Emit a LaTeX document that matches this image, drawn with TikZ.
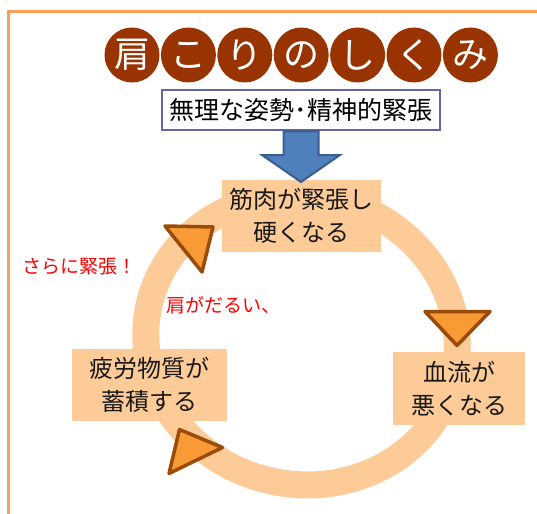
\documentclass[tikz,border=0pt]{standalone}
\usepackage{fontspec}
\setmainfont{Noto Sans CJK JP}
\usetikzlibrary{calc}
\definecolor{frameorange}{HTML}{F8A05A}
\definecolor{peach}{HTML}{FDCB98}
\definecolor{tribrown}{HTML}{9A4B0A}
\definecolor{triorange}{HTML}{F89A35}
\definecolor{titlered}{HTML}{993300}
\definecolor{slate}{HTML}{6464A0}
\definecolor{arrowblue}{HTML}{4F7FBD}
\definecolor{arrowedge}{HTML}{3A5E8C}
\tikzset{
  frameline/.style={draw=frameorange,line width=3pt},
  ringband/.style={draw=peach,line width=27pt},
  tri/.style={draw=tribrown,fill=triorange,line width=3.5pt,line join=round},
  stepbox/.style={rectangle,fill=peach,inner sep=0pt,outer sep=0pt,align=center,
    font=\fontsize{24}{33}\selectfont,text=black!90},
  titlecirc/.style={circle,fill=titlered,minimum size=55pt,inner sep=0pt,
    text=white,font=\fontsize{36}{36}\selectfont},
  subbox/.style={rectangle,draw=slate,line width=2pt,fill=white,minimum width=278pt,
    minimum height=40pt,inner sep=0pt,outer sep=0pt,font=\fontsize{25}{25}\selectfont},
  bluearrow/.style={fill=arrowblue,draw=arrowedge,line width=2pt,line join=miter},
  redtext/.style={text=red,inner sep=0pt,anchor=west,font=\fontsize{19}{19}\selectfont}
}
\begin{document}
\begin{tikzpicture}[x=1pt,y=-1pt]
\useasboundingbox (0,0) rectangle (537,513);
\clip (0,0) rectangle (537,513);
% frame
\draw[frameline] (8,11.5) rectangle (600,600);
% ring
\coordinate (ringc) at (301.5,340);
\draw[ringband,rotate around={-14:(ringc)}] (ringc) ellipse [x radius=156.4pt, y radius=144.2pt];
% triangles
\draw[tri] (165,226) -- (213,227) -- (202,272) -- cycle;
\draw[tri] (425,311.5) -- (490,311.5) -- (457,345.5) -- cycle;
\draw[tri] (179.5,429.5) -- (222.5,447.5) -- (169,473.5) -- cycle;
% boxes
\node[stepbox,minimum width=159pt,minimum height=72pt] (muscle) at (301.5,216)
  {\raisebox{-2pt}{\parbox{159pt}{\centering 筋肉が緊張し\\硬くなる}}};
\node[stepbox,minimum width=132pt,minimum height=73pt] (blood) at (459,388.5)
  {\raisebox{-2pt}{\parbox{132pt}{\centering 血流が\\悪くなる}}};
\node[stepbox,minimum width=155pt,minimum height=72pt] (fatigue) at (149.5,385)
  {\raisebox{-3pt}{\parbox{155pt}{\centering 疲労物質が\\蓄積する}}};
% title
\foreach \ch [count=\i from 0] in {肩,こ,り,の,し,く,み}
  \node[titlecirc] (t\i) at ({132+56.4*\i},55) {\ch};
% subtitle
\node[subbox] (sub) at (301,110) {無理な姿勢･精神的緊張};
% blue arrow
\draw[bluearrow] ($(sub.south)+(-17.5,1.5)$) -- ($(sub.south)+(17.5,1.5)$)
  -- ($(sub.south)+(17.5,25)$) -- ($(sub.south)+(39,25)$)
  -- ($(muscle.north -| sub.south)+(0,2)$)
  -- ($(sub.south)+(-39,25)$) -- ($(sub.south)+(-17.5,25)$) -- cycle;
% red notes
\node[redtext] (more) at (22,266.7) {さらに緊張！};
\node[redtext] (dull) at (166,305) {肩がだるい、};
\end{tikzpicture}
\end{document}
